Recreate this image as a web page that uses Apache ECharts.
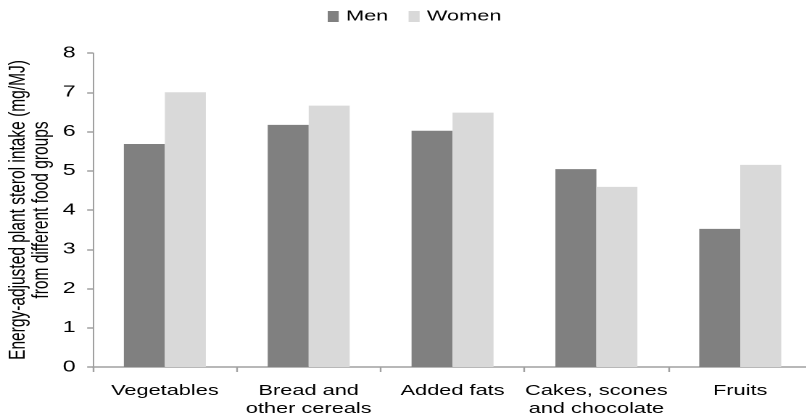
<!DOCTYPE html>
<html>
<head>
<meta charset="utf-8">
<script src="https://cdn.jsdelivr.net/npm/echarts@6/dist/echarts.min.js"></script>
<style>
html,body{margin:0;padding:0;background:#fff;overflow:hidden;width:806px;height:414px}
#c{width:556px;height:414px;transform:scaleX(1.45);transform-origin:0 0}
</style>
</head>
<body>
<div id="c"></div>
<script>
const categories = ['Vegetables', 'Bread and\nother cereals', 'Added fats', 'Cakes, scones\nand chocolate', 'Fruits'];
const menValues = [5.68, 6.17, 6.02, 5.04, 3.52];
const womenValues = [7.0, 6.66, 6.48, 4.59, 5.15];
const yTicks = [0, 1, 2, 3, 4, 5, 6, 7, 8];

const font = 'Liberation Sans, Arial, sans-serif';
const chart = echarts.init(document.getElementById('c'), null, { devicePixelRatio: 2 });
chart.setOption({
  animation: false,
  legend: {
    top: 9,
    left: 226,
    padding: 0,
    itemWidth: 7.6,
    itemHeight: 11,
    itemGap: 14,
    itemTextGap: 5,
    icon: 'rect',
    textStyle: { fontFamily: font, fontSize: 15, color: '#000' },
    data: ['Men', 'Women']
  },
  grid: { left: 64.1, top: 53, width: 496, height: 314, outerBoundsMode: 'none', containLabel: false },
  xAxis: {
    type: 'category',
    data: categories,
    axisLine: { lineStyle: { color: '#a0a0a0', width: 1.5 } },
    axisTick: { show: true, length: 5, lineStyle: { color: '#a0a0a0', width: 1.2 } },
    axisLabel: { fontFamily: font, fontSize: 15, color: '#000', margin: 15, lineHeight: 18, interval: 0 }
  },
  yAxis: {
    type: 'value',
    min: yTicks[0],
    max: yTicks[yTicks.length - 1],
    interval: 1,
    name: 'Energy-adjusted plant sterol intake (mg/MJ)\nfrom different food groups',
    nameLocation: 'middle',
    nameRotate: 90,
    nameGap: 27.5,
    nameMoveOverlap: false,
    nameTextStyle: { fontFamily: font, fontSize: 15.5, color: '#000', lineHeight: 16 },
    axisLine: { show: true, lineStyle: { color: '#a0a0a0', width: 1 } },
    axisTick: { show: true, length: 4, lineStyle: { color: '#a0a0a0', width: 1.5 } },
    splitLine: { show: false },
    axisLabel: { fontFamily: font, fontSize: 16, color: '#000', margin: 12 }
  },
  series: [
    { name: 'Men', type: 'bar', data: menValues, itemStyle: { color: '#808080' }, barGap: '0%', barCategoryGap: '43%' },
    { name: 'Women', type: 'bar', data: womenValues, itemStyle: { color: '#d9d9d9' }, barGap: '0%', barCategoryGap: '43%' }
  ]
});
</script>
</body>
</html>
